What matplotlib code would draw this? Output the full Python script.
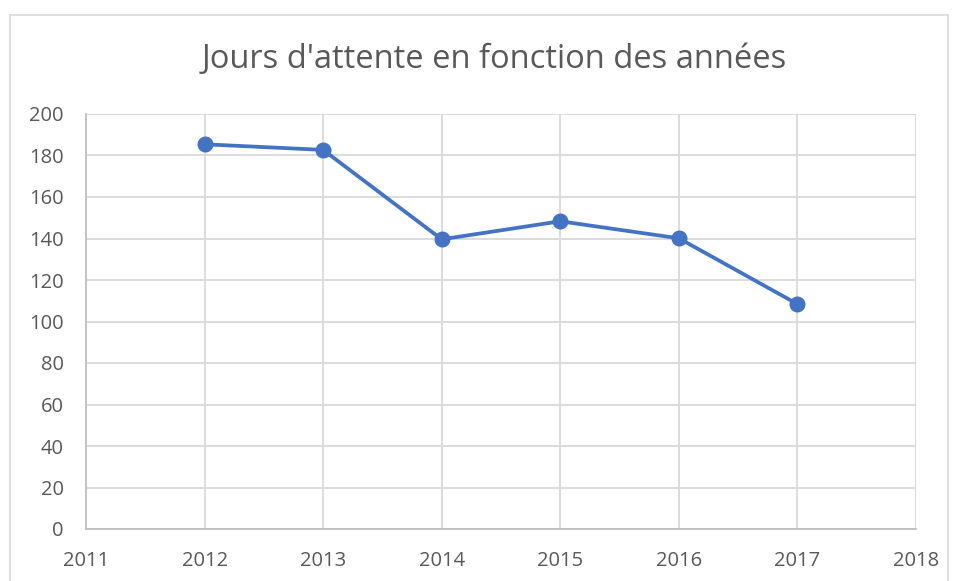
import matplotlib
matplotlib.use("Agg")
import matplotlib.pyplot as plt
from matplotlib.patches import Rectangle

years = [2012, 2013, 2014, 2015, 2016, 2017]
jours = [185.4, 182.7, 139.6, 148.3, 140.1, 108.4]
x_ticks = [2011, 2012, 2013, 2014, 2015, 2016, 2017, 2018]
y_ticks = [0, 20, 40, 60, 80, 100, 120, 140, 160, 180, 200]

TEXT = "#595959"
GRID = "#d9d9d9"
BLUE = "#4472c4"

plt.rcParams["font.family"] = ["Open Sans", "DejaVu Sans"]

fig = plt.figure(figsize=(9.57, 5.81), dpi=100)
W, H = 957, 581

# chart border (Excel style)
fig.patches.append(Rectangle((10 / W, -0.1), 938 / W, 1.1 - 15 / H,
                             transform=fig.transFigure, fill=False,
                             edgecolor=GRID, linewidth=1.2))

ax = fig.add_axes([86 / W, 1 - 529 / H, 830 / W, 415 / H])
ax.plot(years, jours, color=BLUE, linewidth=2.7, marker="o",
        markersize=10.5, zorder=3)

ax.set_xlim(2011, 2018)
ax.set_ylim(0, 200)
ax.set_xticks(x_ticks)
ax.set_yticks(y_ticks)
ax.grid(True, color=GRID, linewidth=1.3)
ax.set_axisbelow(True)

for side in ["top", "right"]:
    ax.spines[side].set_visible(False)
ax.spines["left"].set_color("#bfbfbf")
ax.spines["bottom"].set_color("#bfbfbf")
ax.spines["left"].set_linewidth(1.3)
ax.spines["bottom"].set_linewidth(1.3)

ax.tick_params(length=0, colors=TEXT, labelsize=14.5)
ax.tick_params(axis="y", pad=16)
ax.tick_params(axis="x", pad=16)

fig.text(494 / W, 1 - 60 / H,
         "Jours d'attente en fonction des années",
         ha="center", va="center", fontsize=23.5, color=TEXT)

fig.savefig("out.png", dpi=100)
